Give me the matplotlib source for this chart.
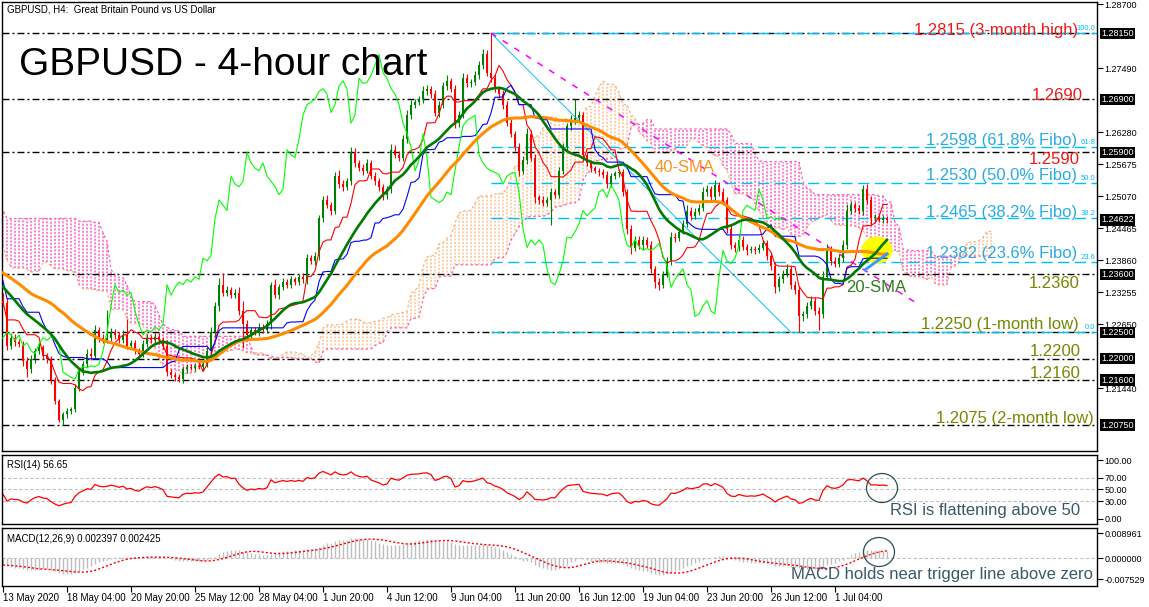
import numpy as np
import pandas as pd
import matplotlib
matplotlib.use('Agg')
import matplotlib.pyplot as plt
from matplotlib.patches import Ellipse

plt.rcParams['font.family'] = ['Liberation Sans', 'DejaVu Sans']

# ---------------- data ----------------
# 4h closes before the visible window (only used to warm up the indicators)
pre_close = [1.2380, 1.2400, 1.2420, 1.2430, 1.2440, 1.2425,
             1.2415, 1.2440, 1.2460, 1.2420, 1.2410, 1.2405,
             1.2420, 1.2440, 1.2445, 1.2470, 1.2455, 1.2440,
             1.2455, 1.2470, 1.2530, 1.2600, 1.2630, 1.2590,
             1.2560, 1.2520, 1.2500, 1.2490, 1.2480, 1.2490,
             1.2470, 1.2440, 1.2420, 1.2425, 1.2440, 1.2435,
             1.2440, 1.2425, 1.2450, 1.2445, 1.2430, 1.2435,
             1.2430, 1.2390, 1.2350, 1.2330, 1.2340, 1.2340,
             1.2345, 1.2365, 1.2300, 1.2370, 1.2395, 1.2390,
             1.2395, 1.2405, 1.2400, 1.2410, 1.2405, 1.2410,
             1.2370, 1.2340, 1.2320, 1.2330, 1.2340, 1.2335,
             1.2325, 1.2310, 1.2290, 1.2315, 1.2330, 1.2300,
             1.2285, 1.2290, 1.2310]

# visible 4h closes, 13 May 12:00 -> 3 Jul
close = [1.2305, 1.2225, 1.2240, 1.2232, 1.2228, 1.2195, 1.2180, 1.2200, 1.2215, 1.2222,
         1.2205, 1.2200, 1.2160, 1.2120, 1.2085, 1.2095, 1.2102, 1.2105, 1.2145, 1.2175,
         1.2190, 1.2210, 1.2205, 1.2255, 1.2240, 1.2235, 1.2240, 1.2250, 1.2245, 1.2235,
         1.2245, 1.2225, 1.2230, 1.2215, 1.2210, 1.2228, 1.2240, 1.2235, 1.2242, 1.2235,
         1.2225, 1.2175, 1.2170, 1.2165, 1.2162, 1.2180, 1.2185, 1.2183, 1.2187, 1.2185,
         1.2190, 1.2215, 1.2250, 1.2300, 1.2340, 1.2325, 1.2330, 1.2320, 1.2325, 1.2290,
         1.2265, 1.2245, 1.2255, 1.2250, 1.2260, 1.2255, 1.2265, 1.2340, 1.2320, 1.2335,
         1.2345, 1.2340, 1.2350, 1.2345, 1.2355, 1.2350, 1.2390, 1.2385, 1.2395, 1.2465,
         1.2500, 1.2490, 1.2480, 1.2545, 1.2530, 1.2525, 1.2535, 1.2590, 1.2570, 1.2560,
         1.2555, 1.2570, 1.2545, 1.2535, 1.2525, 1.2510, 1.2520, 1.2595, 1.2585, 1.2580,
         1.2615, 1.2660, 1.2680, 1.2685, 1.2690, 1.2705, 1.2710, 1.2700, 1.2665, 1.2680,
         1.2715, 1.2725, 1.2710, 1.2645, 1.2660, 1.2730, 1.2720, 1.2722, 1.2735, 1.2755,
         1.2775, 1.2740, 1.2730, 1.2710, 1.2700, 1.2680, 1.2645, 1.2625, 1.2600, 1.2555,
         1.2575, 1.2625, 1.2580, 1.2505, 1.2500, 1.2495, 1.2500, 1.2515, 1.2510, 1.2555,
         1.2600, 1.2640, 1.2650, 1.2655, 1.2660, 1.2585, 1.2570, 1.2560, 1.2555, 1.2552,
         1.2548, 1.2530, 1.2545, 1.2550, 1.2552, 1.2515, 1.2445, 1.2410, 1.2425, 1.2415,
         1.2425, 1.2415, 1.2370, 1.2345, 1.2340, 1.2360, 1.2385, 1.2430, 1.2428, 1.2440,
         1.2455, 1.2480, 1.2470, 1.2478, 1.2485, 1.2515, 1.2520, 1.2505, 1.2528, 1.2515,
         1.2500, 1.2445, 1.2415, 1.2410, 1.2425, 1.2412, 1.2405, 1.2408, 1.2405, 1.2410,
         1.2418, 1.2395, 1.2375, 1.2335, 1.2350, 1.2360, 1.2370, 1.2340, 1.2330, 1.2280,
         1.2285, 1.2300, 1.2310, 1.2290, 1.2285, 1.2355, 1.2405, 1.2385, 1.2380, 1.2390,
         1.2415, 1.2480, 1.2490, 1.2485, 1.2480, 1.2520, 1.2500, 1.2465, 1.2468, 1.2463,
         1.2466, 1.24622]

# upper / lower shadows in pips
up_wick = [15, 10, 8, 6, 5, 6, 8, 7, 6, 10, 5, 6, 5, 6, 5, 4, 6, 5, 7, 8,
           6, 8, 10, 8, 6, 7, 52, 8, 6, 5, 9, 30, 6, 5, 6, 8, 6, 5, 7, 6,
           6, 10, 6, 5, 6, 7, 5, 5, 6, 5, 7, 8, 10, 8, 12, 22, 8, 6, 7, 10,
           20, 8, 6, 5, 7, 6, 8, 6, 10, 6, 7, 5, 6, 5, 6, 7, 8, 6, 7, 6,
           8, 10, 6, 8, 12, 7, 6, 10, 8, 6, 7, 8, 6, 7, 6, 5, 7, 10, 8, 7,
           8, 10, 8, 6, 7, 10, 8, 6, 7, 6, 8, 10, 6, 7, 8, 10, 8, 6, 8, 7,
           10, 8, 75, 8, 6, 7, 6, 8, 6, 7, 8, 10, 8, 6, 5, 7, 6, 8, 6, 8,
           8, 6, 10, 35, 8, 6, 5, 6, 5, 5, 6, 7, 6, 5, 6, 7, 6, 8, 6, 7,
           6, 5, 7, 6, 8, 6, 8, 10, 8, 7, 8, 10, 6, 7, 8, 10, 8, 7, 10, 6,
           8, 6, 7, 6, 10, 6, 5, 6, 5, 6, 7, 6, 7, 8, 7, 8, 10, 6, 7, 8,
           6, 7, 8, 6, 7, 10, 12, 8, 7, 8, 10, 12, 8, 7, 6, 8, 10, 8, 6, 5,
           6, 4]
dn_wick = [5, 8, 6, 7, 6, 8, 14, 6, 7, 5, 6, 7, 8, 6, 5, 10, 7, 6, 6, 5,
           6, 5, 7, 6, 8, 6, 5, 6, 7, 5, 6, 7, 5, 6, 8, 7, 6, 5, 6, 7,
           6, 8, 7, 6, 5, 7, 6, 5, 6, 5, 7, 6, 7, 8, 10, 6, 7, 5, 6, 8,
           45, 7, 6, 5, 6, 7, 6, 8, 6, 7, 5, 6, 7, 5, 6, 7, 8, 6, 7, 8,
           7, 6, 8, 6, 7, 8, 6, 7, 8, 6, 7, 5, 6, 7, 8, 10, 8, 7, 6, 7,
           6, 8, 7, 6, 5, 7, 6, 8, 7, 8, 6, 7, 6, 10, 8, 6, 7, 6, 5, 6,
           7, 6, 8, 6, 7, 8, 6, 7, 8, 10, 6, 8, 7, 10, 8, 7, 6, 47, 7, 6,
           6, 8, 7, 6, 5, 8, 6, 7, 5, 6, 7, 8, 6, 5, 6, 7, 10, 12, 7, 8,
           7, 6, 8, 12, 10, 7, 6, 8, 7, 6, 5, 7, 8, 6, 7, 6, 7, 8, 6, 7,
           7, 8, 7, 8, 6, 7, 8, 6, 7, 6, 5, 8, 7, 10, 6, 7, 6, 8, 7, 30,
           8, 7, 6, 8, 30, 7, 6, 8, 7, 6, 7, 8, 6, 7, 6, 8, 7, 12, 6, 5,
           6, 6]

date_labels = ['13 May 2020', '18 May 04:00', '20 May 20:00', '25 May 12:00', '28 May 04:00',
               '1 Jun 20:00', '4 Jun 12:00', '9 Jun 04:00', '11 Jun 20:00', '16 Jun 12:00',
               '19 Jun 04:00', '23 Jun 20:00', '26 Jun 12:00', '1 Jul 04:00']
label_step = 16

key_levels = [1.2815, 1.2690, 1.2590, 1.2360, 1.2250, 1.2200, 1.2160, 1.2075]
swing_high, swing_low = 1.2815, 1.2250
swing_high_bar, swing_low_bar = 122, 197
trend_end_bar, trend_end_price = 228, 1.2307
fib_ratios = [1.0, 0.618, 0.5, 0.382, 0.236, 0.0]
fib_names = ['100.0', '61.8', '50.0', '38.2', '23.6', '0.0']
price_ticks = [1.28700, 1.27490, 1.26280, 1.25675, 1.25070, 1.24465, 1.23860,
               1.23255, 1.22650, 1.21440]
boxed_prices = [1.28150, 1.26900, 1.25900, 1.23600, 1.22500, 1.22000, 1.21600, 1.20750]

# ---------------- derived series ----------------
n = len(close)
c = np.array(close)
o = np.r_[pre_close[-1], c[:-1]]
hi = np.maximum(o, c) + np.array(up_wick) * 1e-4
lo = np.minimum(o, c) - np.array(dn_wick) * 1e-4
npre = len(pre_close)
x = np.arange(n)
x_all = np.arange(-npre, n)

C = pd.Series(np.r_[pre_close, c])
Hs = pd.Series(np.r_[pre_close, hi])
Ls = pd.Series(np.r_[pre_close, lo])

sma20 = C.rolling(20, min_periods=1).mean().values[npre:]
sma40 = C.rolling(40, min_periods=1).mean().values[npre:]


def mid(p):
    return ((Hs.rolling(p, min_periods=1).max() + Ls.rolling(p, min_periods=1).min()) / 2).values


tenkan, kijun = mid(9), mid(26)
span_a = (tenkan + kijun) / 2
span_b = mid(52)
x_cloud = x_all + 26
keep = (x_cloud >= -1) & (x_cloud <= n + 25)

delta = C.diff()
ag = delta.clip(lower=0).ewm(alpha=1 / 14, adjust=False).mean()
al = (-delta.clip(upper=0)).ewm(alpha=1 / 14, adjust=False).mean()
rsi = (100 - 100 / (1 + ag / al)).values[npre:]

macd_main = C.ewm(span=12, adjust=False).mean() - C.ewm(span=26, adjust=False).mean()
macd_sig = macd_main.rolling(9).mean().values[npre:]
macd_main = macd_main.values[npre:]

# ---------------- figure ----------------
W, H = 1149, 607
fig = plt.figure(figsize=(W / 100, H / 100), dpi=100)
fig.patch.set_facecolor('white')


def px_axes(l, t, r, b):
    return fig.add_axes([l / W, 1 - b / H, (r - l) / W, (b - t) / H])


ax = px_axes(2, 2, 1097, 451)
ax_rsi = px_axes(2, 455, 1097, 524)
ax_macd = px_axes(2, 528, 1097, 586)
xlim = (-0.25, 273.5)
for a in (ax, ax_rsi, ax_macd):
    a.set_xlim(*xlim)
    for s in a.spines.values():
        s.set_color('black')
        s.set_linewidth(1)
    a.yaxis.tick_right()
    a.tick_params(axis='y', direction='out', length=4, width=0.8, labelsize=6.5, pad=1.5)
    a.set_xticks([])

# ichimoku cloud (dotted columns)
cl_x = x_cloud[keep]
ca, cb = span_a[keep], span_b[keep]
cols = np.where(cb > ca, '#FF5FC0', '#FBC593')
ax.vlines(cl_x, np.minimum(ca, cb), np.maximum(ca, cb), colors=cols,
          linestyles=(0, (1.3, 1.0)), lw=1.1, zorder=1)
ax.plot(cl_x, ca, color='#F8B47A', lw=0.9, ls=(0, (2, 2)), zorder=1)
ax.plot(cl_x, cb, color='#FF5FB4', lw=0.9, ls=(0, (2, 2)), zorder=1)

# horizontal key levels
for lv in key_levels:
    ax.axhline(lv, color='black', lw=1, ls=(0, (5, 2.2, 1.4, 2.2)), zorder=2)

# fibonacci retracement
rng = swing_high - swing_low
for r, name in zip(fib_ratios, fib_names):
    lv = swing_low + r * rng
    ax.plot([swing_high_bar, xlim[1]], [lv, lv], color='#00BFFF', lw=1,
            ls=(0, (8, 4)), zorder=2)
    ax.text(xlim[1] - 0.4, lv + 0.0002, name, color='#00BFFF', fontsize=5.5,
            ha='right', va='bottom', zorder=6)
ax.plot([swing_high_bar, swing_low_bar], [swing_high, swing_low], color='#00BFFF',
        lw=0.7, zorder=2)
ax.plot([swing_high_bar, trend_end_bar], [swing_high, trend_end_price], color='#FF00FF',
        lw=1.1, ls=(0, (4, 5)), zorder=2)

# yellow highlight
ax.add_patch(Ellipse((877 / W, 1 - 250 / H), 31 / W, 27 / H, transform=fig.transFigure,
                     fc='#FFFF00', ec='none', zorder=2.5))

# candles
colors = np.where(c >= o, '#008000', '#FF0000')
ax.vlines(x, lo, hi, colors=colors, lw=0.8, zorder=3)
ax.bar(x, np.maximum(np.abs(c - o), 0.00006), bottom=np.minimum(o, c), width=0.72,
       color=colors, lw=0, zorder=3)

# indicator lines
vis = x_all >= 0
ax.plot(x, tenkan[vis], color='#FF0000', lw=0.8, zorder=4)
ax.plot(x, kijun[vis], color='#0000FF', lw=0.8, zorder=4)
ax.plot(x - 26, c, color='#00FF00', lw=0.8, zorder=4)
ax.plot(x, sma40, color='#FF8C00', lw=2.2, zorder=5)
ax.plot(x, sma20, color='#007A00', lw=1.9, zorder=5)
ax.plot([215.5, 221], [1.2368, 1.2398], color='#3399FF', lw=2, zorder=5)

ax.set_ylim(1.202598, 1.287378)
ax.set_yticks(price_ticks)
ax.set_yticklabels([f'{p:.5f}' for p in price_ticks])
for p in boxed_prices + [close[-1]]:
    ax.annotate(f'{p:.5f}', xy=(1, p), xycoords=('axes fraction', 'data'),
                xytext=(4, 0), textcoords='offset pixels', ha='left', va='center',
                fontsize=6.5, color='white', annotation_clip=False,
                bbox=dict(boxstyle='square,pad=0.12', fc='black', ec='none'))

# RSI panel
for lv in (70, 50, 30):
    ax_rsi.axhline(lv, color='#C0C0C0', lw=0.8, ls=(0, (3, 2)))
ax_rsi.plot(x, rsi, color='#FF0000', lw=0.9)
ax_rsi.set_ylim(-8.5, 108.5)
ax_rsi.set_yticks([100, 70, 50, 30, 0])
ax_rsi.set_yticklabels(['100.00', '70.00', '50.00', '30.00', '0.00'])
ax_rsi.text(0.005, 0.93, 'RSI(14) 56.65', transform=ax_rsi.transAxes, fontsize=7,
            va='top', ha='left')

# MACD panel
ax_macd.axhline(0, color='#C0C0C0', lw=0.8, ls=(0, (3, 2)))
ax_macd.vlines(x, 0, macd_main, colors='#BDBDBD', lw=1.0)
ax_macd.plot(x, macd_sig, color='#FF0000', lw=1, ls=(0, (1.5, 1.5)))
ax_macd.set_ylim(-0.0100, 0.01075)
ax_macd.set_yticks([0.008961, 0.0, -0.007529])
ax_macd.set_yticklabels(['0.008961', '0.000000', '-0.007529'])
ax_macd.text(0.005, 0.9, 'MACD(12,26,9) 0.002397 0.002425', transform=ax_macd.transAxes,
             fontsize=7, va='top', ha='left')
ticks = np.arange(len(date_labels)) * label_step
ax_macd.set_xticks(ticks)
ax_macd.set_xticklabels(date_labels, ha='left', fontsize=7)
ax_macd.tick_params(axis='x', direction='out', length=4, width=0.8, pad=1)


# ---------------- annotations (figure pixels) ----------------
def ftext(px, py, s, **kw):
    fig.text(px / W, 1 - py / H, s, va='center', **kw)


ftext(7, 9, 'GBPUSD, H4:  Great Britain Pound vs US Dollar', fontsize=7)
ftext(19, 65, 'GBPUSD - 4-hour chart', fontsize=28)

red, blue, olive = '#F01818', '#29ABE2', '#6F8A00'
labels = [('1.2815 (3-month high)', 1078, 30, red),
          ('1.2690', 1083, 95, red),
          ('1.2598 (61.8% Fibo)', 1077, 141, blue),
          ('1.2590', 1080, 160, red),
          ('1.2530 (50.0% Fibo)', 1077, 176, blue),
          ('1.2465 (38.2% Fibo)', 1077, 212, blue),
          ('1.2382 (23.6% Fibo)', 1077, 254, blue),
          ('1.2360', 1080, 283, olive),
          ('1.2250 (1-month low)', 1079, 324, olive),
          ('1.2200', 1081, 351, olive),
          ('1.2160', 1081, 374, olive),
          ('1.2075 (2-month low)', 1094, 418, olive)]
for s, px, py, col in labels:
    ftext(px, py, s, fontsize=12, color=col, ha='right')

ftext(655, 167, '40-SMA', fontsize=12, color='#F7941D', ha='left')
ftext(846, 288, '20-SMA', fontsize=12, color='#2E7D1E', ha='left')

note = '#3A5868'
ftext(1080, 510, 'RSI is flattening above 50', fontsize=12, color=note, ha='right')
ftext(1093, 575, 'MACD holds near trigger line above zero', fontsize=12, color=note, ha='right')
for cx, cy in ((882, 488), (879, 552)):
    fig.add_artist(Ellipse((cx / W, 1 - cy / H), 31 / W, 29 / H, transform=fig.transFigure,
                           fill=False, ec='#2F4F4F', lw=0.9))

fig.savefig('out.png', dpi=100, facecolor='white')
